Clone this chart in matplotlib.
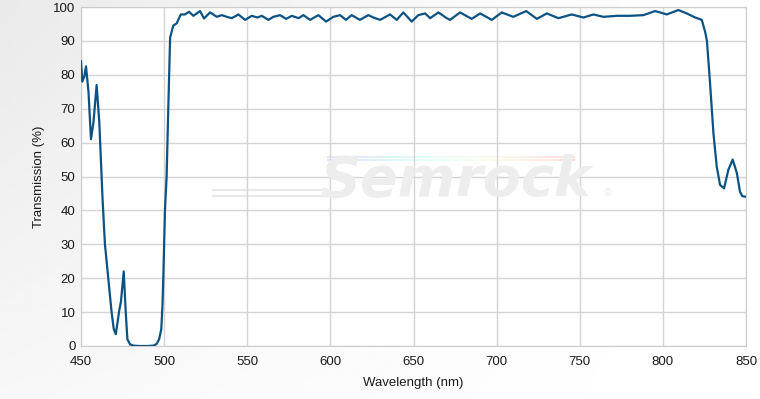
import numpy as np
import matplotlib.pyplot as plt
from matplotlib.collections import LineCollection

plt.rcParams['font.family'] = ['Liberation Sans', 'DejaVu Sans']

# transmission curve (nm, %)
wavelength = [450.0, 450.8, 452.0, 453.0, 454.5, 456.0, 457.5, 459.4, 461.0, 463.0,
              464.4, 466.4, 468.4, 469.7, 470.9, 472.0, 473.0, 474.0, 475.7, 476.9,
              477.9, 479.5, 481.5, 485.0, 490.0, 493.5, 495.5, 497.0, 498.3, 499.0,
              499.5, 500.5, 501.5, 502.5, 503.6, 505.5, 507.6, 510.0, 512.5, 515.0,
              517.6, 521.6, 524.0, 527.6, 531.7, 534.7, 537.7, 540.7, 544.7, 548.7,
              552.7, 556.1, 558.7, 562.7, 565.7, 569.7, 573.4, 576.8, 580.8, 583.8,
              587.8, 592.8, 597.4, 601.8, 605.8, 609.4, 612.8, 617.8, 622.8, 625.9,
              629.9, 635.9, 639.9, 643.9, 648.9, 652.9, 657.0, 660.0, 665.0, 670.0,
              672.0, 678.0, 685.0, 690.1, 697.1, 703.1, 710.0, 717.8, 724.2, 730.2,
              737.2, 745.2, 752.2, 758.2, 764.2, 772.3, 780.3, 788.3, 795.3, 798.3,
              802.3, 809.3, 814.4, 819.4, 823.4, 825.4, 826.5, 828.4, 830.4, 832.4,
              834.4, 836.8, 839.4, 842.0, 844.5, 846.4, 847.8, 850.0]
transmission = [84.0, 78.0, 79.5, 82.5, 75.0, 61.0, 66.0, 77.0, 66.0, 43.0,
                30.0, 20.0, 10.0, 5.0, 3.5, 7.0, 10.5, 13.0, 22.0, 10.0,
                2.0, 0.5, 0.1, 0.0, 0.0, 0.1, 0.6, 2.0, 5.0, 12.0,
                20.0, 40.0, 50.0, 70.0, 91.0, 94.5, 95.2, 97.8, 97.8, 98.6,
                97.4, 98.8, 96.6, 98.4, 97.1, 97.6, 97.1, 96.7, 97.8, 96.2,
                97.4, 96.9, 97.4, 96.2, 97.1, 97.6, 96.5, 97.4, 96.7, 97.6,
                96.2, 97.6, 95.7, 97.1, 97.6, 96.2, 97.6, 96.2, 97.6, 96.9,
                96.2, 97.8, 96.2, 98.4, 95.7, 97.6, 98.1, 96.7, 98.4, 96.7,
                96.2, 98.4, 96.5, 98.1, 96.2, 98.4, 97.1, 98.8, 96.5, 98.1,
                96.7, 97.8, 96.9, 97.8, 97.1, 97.4, 97.4, 97.6, 98.8, 98.4,
                97.8, 99.1, 98.1, 96.9, 96.2, 92.7, 90.0, 77.4, 62.8, 52.9,
                47.5, 46.5, 52.0, 55.0, 51.0, 45.5, 44.2, 44.0]

x_ticks = [450, 500, 550, 600, 650, 700, 750, 800, 850]
y_ticks = [0, 10, 20, 30, 40, 50, 60, 70, 80, 90, 100]

fig = plt.figure(figsize=(7.6, 3.99), dpi=100)

# soft grey background, darkest top-left, fading to white
bg = fig.add_axes([0, 0, 1, 1], zorder=-10)
gx, gy = np.meshgrid(np.linspace(0, 1, 200), np.linspace(0, 1, 200))
shade = np.clip(1 - 0.085 * (1 - gx) ** 1.4 * (0.35 + 0.65 * gy), 0, 1)
bg.imshow(shade, cmap='gray', vmin=0, vmax=1, aspect='auto', origin='lower',
          extent=[0, 1, 0, 1])
bg.axis('off')

left, bottom = 81 / 760, 1 - 346 / 399
width, height = 665 / 760, 339 / 399
fig.patches.append(plt.Rectangle((left, bottom), width, height,
                                 transform=fig.transFigure, facecolor='white',
                                 zorder=-5))

ax = fig.add_axes([left, bottom, width, height])
ax.patch.set_alpha(0.0)

# watermark
fig.text(0.6, 0.547, 'Semrock', fontsize=40, fontstyle='italic', fontweight='bold',
         family='DejaVu Sans', color='#ededed', ha='center', va='center', zorder=0)
fig.text(0.795, 0.515, '®', fontsize=8, color='#e8e8e8', ha='left', va='center')
for yy in (0.525, 0.51):
    fig.add_artist(plt.Line2D([0.28, 0.43], [yy, yy], color='#e8e8e8', lw=1.6,
                              transform=fig.transFigure, zorder=0))
rx = np.linspace(0.43, 0.757, 60)
for ry in (0.607, 0.598):
    pts = np.column_stack([rx, np.full_like(rx, ry)])
    segs = np.stack([pts[:-1], pts[1:]], axis=1)
    rainbow = LineCollection(segs, cmap='rainbow', linewidths=1.3, alpha=0.15,
                             transform=fig.transFigure, zorder=0)
    rainbow.set_array(np.linspace(0, 1, len(segs)))
    fig.add_artist(rainbow)

ax.plot(wavelength, transmission, color='#0c5283', lw=1.6, zorder=3,
        solid_joinstyle='round')

ax.set_xlim(450, 850)
ax.set_ylim(0, 100)
ax.set_xticks(x_ticks)
ax.set_yticks(y_ticks)
ax.grid(True, color='#d4d4d4', lw=1)
ax.tick_params(length=0, labelsize=9.5, labelcolor='#1a1a1a')
ax.tick_params(axis='y', pad=4)
ax.tick_params(axis='x', pad=7)
for s in ax.spines.values():
    s.set_color('#cccccc')
ax.set_xlabel('Wavelength (nm)', fontsize=9.5, color='#1a1a1a', labelpad=7)
ax.set_ylabel('Transmission (%)', fontsize=9.5, color='#1a1a1a', labelpad=6)

fig.savefig('out.png', dpi=100)
